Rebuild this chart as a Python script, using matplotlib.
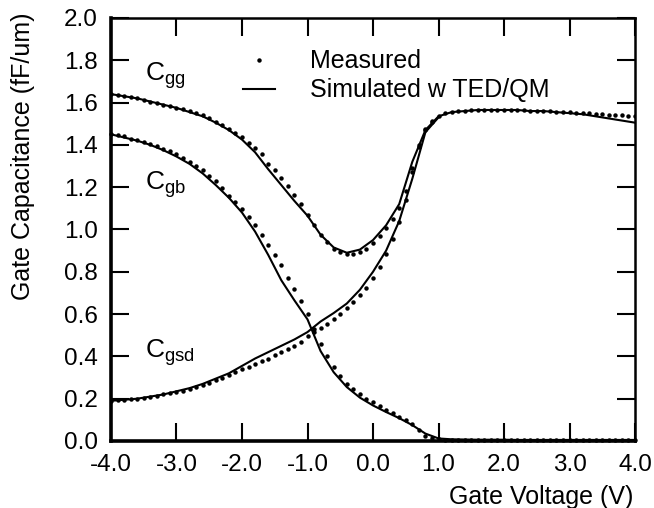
import matplotlib
matplotlib.use("Agg")
import matplotlib.pyplot as plt
from matplotlib.legend_handler import HandlerLine2D

# gate voltage grids (V)
v_sim = [-4.0, -3.8, -3.6, -3.4, -3.2, -3.0, -2.8, -2.6, -2.4, -2.2, -2.0,
         -1.8, -1.6, -1.4, -1.2, -1.0, -0.8, -0.6, -0.4, -0.2, 0.0,
         0.2, 0.4, 0.6, 0.8, 1.0, 1.2, 1.4, 1.6, 1.8, 2.0,
         2.2, 2.4, 2.6, 2.8, 3.0, 3.2, 3.4, 3.6, 3.8, 4.0]
v_meas = [-4.0, -3.9, -3.8, -3.7, -3.6, -3.5, -3.4, -3.3, -3.2, -3.1,
          -3.0, -2.9, -2.8, -2.7, -2.6, -2.5, -2.4, -2.3, -2.2, -2.1,
          -2.0, -1.9, -1.8, -1.7, -1.6, -1.5, -1.4, -1.3, -1.2, -1.1,
          -1.0, -0.9, -0.8, -0.7, -0.6, -0.5, -0.4, -0.3, -0.2, -0.1,
          0.0, 0.1, 0.2, 0.3, 0.4, 0.5, 0.6, 0.7, 0.8, 0.9,
          1.0, 1.1, 1.2, 1.3, 1.4, 1.5, 1.6, 1.7, 1.8, 1.9,
          2.0, 2.1, 2.2, 2.3, 2.4, 2.5, 2.6, 2.7, 2.8, 2.9,
          3.0, 3.1, 3.2, 3.3, 3.4, 3.5, 3.6, 3.7, 3.8, 3.9, 4.0]

# simulated (w TED/QM), fF/um
cgg_sim = [1.64, 1.63, 1.62, 1.605, 1.59, 1.575, 1.555, 1.535, 1.505, 1.47, 1.425,
           1.365, 1.285, 1.21, 1.135, 1.065, 0.975, 0.915, 0.89, 0.905, 0.95,
           1.02, 1.12, 1.32, 1.47, 1.535, 1.555, 1.56, 1.565, 1.565, 1.565,
           1.565, 1.56, 1.56, 1.555, 1.55, 1.545, 1.535, 1.525, 1.515, 1.505]
cgb_sim = [1.45, 1.435, 1.42, 1.40, 1.375, 1.345, 1.31, 1.265, 1.21, 1.15, 1.08,
           0.99, 0.88, 0.76, 0.665, 0.575, 0.425, 0.325, 0.255, 0.205, 0.168,
           0.137, 0.108, 0.075, 0.035, 0.012, 0.008, 0.007, 0.006, 0.006, 0.006,
           0.005, 0.005, 0.005, 0.005, 0.005, 0.005, 0.005, 0.005, 0.005, 0.005]
cgsd_sim = [0.19, 0.195, 0.20, 0.21, 0.22, 0.235, 0.25, 0.27, 0.295, 0.32, 0.355,
            0.39, 0.42, 0.45, 0.48, 0.515, 0.565, 0.605, 0.65, 0.715, 0.80,
            0.90, 1.04, 1.24, 1.46, 1.53]

# measured, fF/um
cgg_meas = [1.64, 1.635, 1.63, 1.625, 1.62, 1.61, 1.605, 1.60, 1.59, 1.585,
            1.575, 1.57, 1.56, 1.55, 1.54, 1.525, 1.51, 1.495, 1.475, 1.455,
            1.435, 1.41, 1.385, 1.355, 1.31, 1.28, 1.245, 1.205, 1.165, 1.12,
            1.07, 1.02, 0.975, 0.94, 0.91, 0.895, 0.885, 0.885, 0.895, 0.91,
            0.935, 0.97, 1.005, 1.05, 1.10, 1.18, 1.29, 1.40, 1.475, 1.515,
            1.535, 1.55, 1.555, 1.56, 1.56, 1.565, 1.565, 1.565, 1.565, 1.565,
            1.565, 1.565, 1.565, 1.565, 1.56, 1.56, 1.56, 1.56, 1.555, 1.555,
            1.555, 1.55, 1.55, 1.55, 1.545, 1.545, 1.54, 1.54, 1.54, 1.535, 1.535]
cgb_meas = [1.45, 1.445, 1.44, 1.43, 1.425, 1.415, 1.405, 1.395, 1.38, 1.37,
            1.355, 1.34, 1.32, 1.30, 1.28, 1.255, 1.23, 1.195, 1.16, 1.13,
            1.095, 1.06, 1.02, 0.975, 0.925, 0.88, 0.83, 0.77, 0.72, 0.66,
            0.60, 0.53, 0.46, 0.40, 0.35, 0.305, 0.27, 0.245, 0.22, 0.20,
            0.185, 0.165, 0.145, 0.13, 0.115, 0.10, 0.08, 0.05, 0.025, 0.012,
            0.008, 0.007, 0.007, 0.006, 0.006, 0.006, 0.006, 0.006, 0.006, 0.006,
            0.006, 0.006, 0.006, 0.006, 0.006, 0.006, 0.006, 0.006, 0.006, 0.006,
            0.006, 0.006, 0.006, 0.006, 0.006, 0.006, 0.006, 0.006, 0.006, 0.006, 0.006]
cgsd_meas = [0.19, 0.192, 0.195, 0.198, 0.20, 0.205, 0.21, 0.215, 0.22, 0.225,
             0.23, 0.235, 0.245, 0.255, 0.265, 0.275, 0.29, 0.30, 0.31, 0.325,
             0.34, 0.35, 0.365, 0.38, 0.39, 0.405, 0.42, 0.435, 0.45, 0.47,
             0.495, 0.515, 0.535, 0.555, 0.575, 0.60, 0.627, 0.655, 0.69, 0.725,
             0.77, 0.824, 0.885, 0.955, 1.035, 1.14, 1.27, 1.39, 1.47, 1.51]

x_ticks = [-4.0, -3.0, -2.0, -1.0, 0.0, 1.0, 2.0, 3.0, 4.0]
y_ticks = [0.0, 0.2, 0.4, 0.6, 0.8, 1.0, 1.2, 1.4, 1.6, 1.8, 2.0]


class RightDotHandler(HandlerLine2D):
    # put the single legend dot at the right end of the handle box
    def get_xdata(self, legend, xdescent, ydescent, width, height, fontsize):
        xdata = [-xdescent, width - xdescent]
        return xdata, [width - xdescent]


def main():
    plt.rcParams["font.family"] = ["Liberation Sans", "DejaVu Sans"]
    plt.rcParams["mathtext.fontset"] = "custom"
    plt.rcParams["mathtext.rm"] = "Liberation Sans"
    plt.rcParams["mathtext.it"] = "Liberation Sans"

    fig = plt.figure(figsize=(6.54, 5.08), dpi=100)
    ax = fig.add_axes([0.1697, 0.1319, 0.8013, 0.8327])

    dot_kw = dict(ls="none", marker="o", ms=3.2, color="black", mew=0)
    line_kw = dict(color="black", lw=1.5)

    meas, = ax.plot(v_meas, cgg_meas, label="Measured", **dot_kw)
    ax.plot(v_meas, cgb_meas, clip_on=False, **dot_kw)
    ax.plot(v_meas[:len(cgsd_meas)], cgsd_meas, **dot_kw)

    sim, = ax.plot(v_sim, cgg_sim, label="Simulated w TED/QM", **line_kw)
    ax.plot(v_sim, cgb_sim, **line_kw)
    ax.plot(v_sim[:len(cgsd_sim)], cgsd_sim, **line_kw)

    ax.text(-3.48, 1.705, r"$\mathrm{C_{gg}}$", fontsize=19, va="baseline")
    ax.text(-3.48, 1.187, r"$\mathrm{C_{gb}}$", fontsize=19, va="baseline")
    ax.text(-3.48, 0.392, r"$\mathrm{C_{gsd}}$", fontsize=19, va="baseline")

    ax.set_xlim(-4.0, 4.0)
    ax.set_ylim(0.0, 2.0)
    ax.set_xticks(x_ticks)
    ax.set_yticks(y_ticks)
    ax.set_xticklabels([f"{t:.1f}" for t in x_ticks])
    ax.set_yticklabels([f"{t:.1f}" for t in y_ticks])
    ax.tick_params(direction="in", length=13, width=1.5, top=True, right=True,
                   labelsize=17.5, pad=9.5)

    for side in ["left", "bottom"]:
        ax.spines[side].set_linewidth(2.6)
    for side in ["top", "right"]:
        ax.spines[side].set_linewidth(1.8)

    ax.set_ylabel("Gate Capacitance (fF/um)", fontsize=18)
    ax.yaxis.set_label_coords(-0.145, 0.674)
    ax.set_xlabel("Gate Voltage (V)", fontsize=18, loc="right")
    ax.xaxis.set_label_coords(0.996, -0.104)

    ax.legend(handles=[meas, sim], loc="upper left", bbox_to_anchor=(0.252, 0.926),
              frameon=False, fontsize=18, numpoints=1, handlelength=1.28,
              handletextpad=1.4, labelspacing=0.2, borderpad=0, borderaxespad=0,
              handler_map={meas: RightDotHandler(numpoints=1)})

    fig.savefig("out.png", dpi=100)
    plt.close(fig)


if __name__ == "__main__":
    main()
